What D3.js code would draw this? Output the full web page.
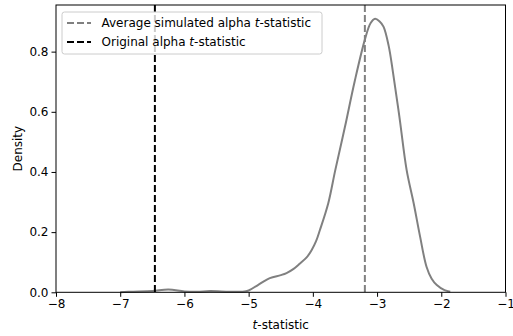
<!DOCTYPE html>
<html>
<head>
<meta charset="utf-8">
<script src="https://cdn.jsdelivr.net/npm/d3@7"></script>
<style>
  body { margin: 0; background: #fff; }
  text { font-family: "DejaVu Sans", sans-serif; }
</style>
</head>
<body>
<div id="chart"></div>
<script>
// Data
const tValues = [-7.0, -6.8, -6.5, -6.25, -6.0, -5.8, -5.6, -5.3, -5.1, -5.0, -4.85, -4.67,
    -4.5, -4.41, -4.3, -4.2, -4.1, -4.02, -3.95, -3.89, -3.76, -3.65, -3.5, -3.35, -3.19,
    -3.1, -3.03, -2.96, -2.9, -2.82, -2.75, -2.65, -2.54, -2.43, -2.33, -2.23, -2.15,
    -2.07, -1.95, -1.86];
const densityValues = [0.0005, 0.002, 0.004, 0.009, 0.003, 0.002, 0.004, 0.002, 0.002, 0.006,
    0.025, 0.047, 0.057, 0.064, 0.078, 0.096, 0.115, 0.14, 0.17, 0.207, 0.296, 0.407, 0.55,
    0.70, 0.84, 0.895, 0.909, 0.90, 0.883, 0.82, 0.728, 0.58, 0.407, 0.296, 0.185, 0.085,
    0.045, 0.024, 0.007, 0.002];
const averageT = -3.19;
const originalT = -6.46;
const xTicks = [-8, -7, -6, -5, -4, -3, -2, -1];
const yTicks = [0.0, 0.2, 0.4, 0.6, 0.8];
const legendLabels = ["Average simulated alpha ", "Original alpha "];
const legendColors = ["#808080", "#000000"];

const W = 513, H = 336;
const margin = {left: 56, top: 5, right: 7.5, bottom: 43.7};
const width = W - margin.left - margin.right;
const height = H - margin.top - margin.bottom;

let svg = d3.select("#chart")
    .append("svg")
    .attr("width", W)
    .attr("height", H);

let chart = svg.append("g")
    .attr("transform", "translate(" + margin.left + ", " + margin.top + ")");

let x = d3.scaleLinear().domain([-8, -1]).range([0, width]);
let y = d3.scaleLinear().domain([0, 0.955]).range([height, 0]);

// density curve
const points = tValues.map(function(t, i) { return [t, densityValues[i]]; });
chart.append("path")
    .datum(points)
    .attr("fill", "none")
    .attr("stroke", "#808080")
    .attr("stroke-width", 2)
    .attr("d", d3.line()
        .x(function(d) { return x(d[0]); })
        .y(function(d) { return y(d[1]); })
        .curve(d3.curveCatmullRom.alpha(0.5)));

// vertical reference lines
[[averageT, legendColors[0]], [originalT, legendColors[1]]].forEach(function(v) {
    chart.append("line")
        .attr("x1", x(v[0])).attr("x2", x(v[0]))
        .attr("y1", 0).attr("y2", height)
        .attr("stroke", v[1])
        .attr("stroke-width", 2)
        .attr("stroke-dasharray", "7,3");
});

// axes
let xAxis = chart.append("g")
    .attr("transform", "translate(0, " + height + ")")
    .call(d3.axisBottom(x).tickValues(xTicks).tickSize(4.5).tickPadding(3)
        .tickFormat(function(d) { return d3.format("d")(d).replace("-", "\u2212"); }));
let yAxis = chart.append("g")
    .call(d3.axisLeft(y).tickValues(yTicks).tickSize(4.5).tickPadding(3)
        .tickFormat(d3.format(".1f")));
[xAxis, yAxis].forEach(function(a) {
    a.select(".domain").remove();
    a.selectAll("text").attr("font-size", 12).attr("fill", "#000")
        .style("font-family", "DejaVu Sans");
    a.selectAll("line").attr("stroke", "#000").attr("stroke-width", 1);
});

// frame
chart.append("rect")
    .attr("x", 0).attr("y", 0)
    .attr("width", width).attr("height", height)
    .attr("fill", "none")
    .attr("stroke", "#000")
    .attr("stroke-width", 1);

// axis labels
let xl = svg.append("text")
    .attr("x", margin.left + width / 2)
    .attr("y", 328.5)
    .attr("text-anchor", "middle")
    .attr("font-size", 12);
xl.append("tspan").attr("font-style", "italic").text("t");
xl.append("tspan").text("-statistic");

svg.append("text")
    .attr("transform", "translate(22, " + (margin.top + height / 2) + ") rotate(-90)")
    .attr("text-anchor", "middle")
    .attr("font-size", 12)
    .text("Density");

// legend
let legend = svg.append("g").attr("transform", "translate(62, 12)");
legend.append("rect")
    .attr("width", 260).attr("height", 42)
    .attr("rx", 2.5)
    .attr("fill", "rgba(255,255,255,0.8)")
    .attr("stroke", "#ccc")
    .attr("stroke-width", 1);
legendLabels.forEach(function(label, i) {
    const ly = 11 + i * 19;
    legend.append("line")
        .attr("x1", 5).attr("x2", 29)
        .attr("y1", ly).attr("y2", ly)
        .attr("stroke", legendColors[i])
        .attr("stroke-width", 2)
        .attr("stroke-dasharray", "7,3");
    let t = legend.append("text")
        .attr("x", 39.5).attr("y", ly + 4.3)
        .attr("font-size", 12);
    t.append("tspan").text(label);
    t.append("tspan").attr("font-style", "italic").text("t");
    t.append("tspan").text("-statistic");
});
</script>
</body>
</html>
